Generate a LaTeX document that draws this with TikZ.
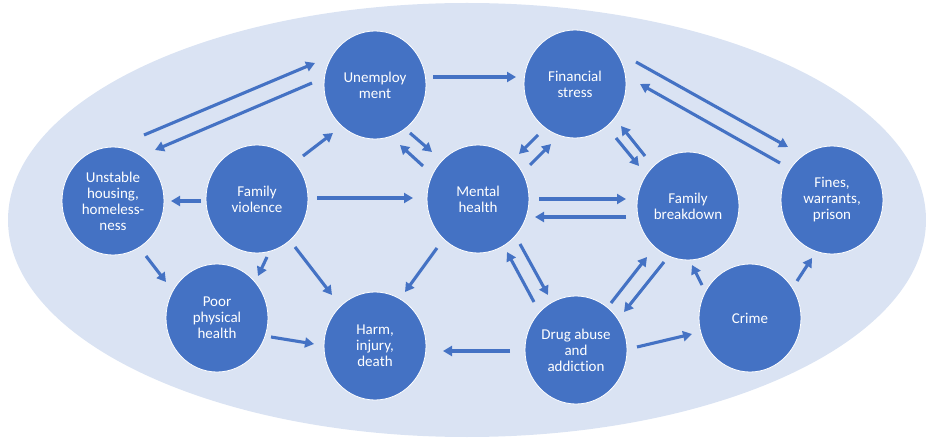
\documentclass[tikz,border=0pt]{standalone}
\usepackage{fontspec}
\setmainfont{Carlito}[Ligatures={NoCommon}]
\usetikzlibrary{shapes.geometric,arrows.meta}
\definecolor{bgblue}{HTML}{DAE3F3}
\definecolor{nodeblue}{HTML}{4472C4}
\tikzset{
  bubble/.style={ellipse, fill=nodeblue, draw=white, line width=0.8pt,
    minimum width=102pt, minimum height=108pt, inner sep=0pt,
    text=white, align=center, font=\fontsize{15}{16}\selectfont},
  arr/.style={draw=nodeblue, line width=3.1pt,
    -{Triangle[length=9pt,width=10pt]}}
}
\begin{document}
\begin{tikzpicture}[x=1pt,y=-1pt]
\useasboundingbox (0,0) rectangle (926,438);
\begin{scope}
\clip (0,0) rectangle (926,438);
\fill[bgblue] (467,220) ellipse [x radius=459pt, y radius=217pt];
\end{scope}

\node[bubble] (U) at (375,85) {Unemploy\\ment};
\node[bubble] (F) at (575,84) {Financial\\stress};
\node[bubble] (H) at (113,201) {Unstable\\housing,\\homeless-\\ness};
\node[bubble] (V) at (257,199) {Family\\violence};
\node[bubble] (P) at (217,318) {Poor\\physical\\health};
\node[bubble] (M) at (478,199) {Mental\\health};
\node[bubble] (B) at (688,206) {Family\\breakdown};
\node[bubble] (N) at (832,200) {Fines,\\warrants,\\prison};
\node[bubble] (R) at (375,346) {Harm,\\injury,\\death};
\node[bubble] (D) at (576,350) {Drug abuse\\and\\addiction};
\node[bubble] (C) at (750,318) {Crime};

\draw[arr] ([shift={(31,-66)}]H.center) -- ([shift={(-60,-22)}]U.center);
\draw[arr] ([shift={(-63,-2)}]U.center) -- ([shift={(42,-51)}]H.center);
\draw[arr] ([shift={(46,-43)}]V.center) -- ([shift={(-42,48)}]U.center);
\draw[arr] ([shift={(35,48)}]U.center) -- ([shift={(-46,-47)}]M.center);
\draw[arr] ([shift={(-55,-33)}]M.center) -- ([shift={(25,60)}]U.center);
\draw[arr] ([shift={(-56,2)}]V.center) -- ([shift={(58,0)}]H.center);
\draw[arr] ([shift={(60,-1)}]V.center) -- ([shift={(-65,-1)}]M.center);
\draw[arr] ([shift={(58,-8)}]U.center) -- ([shift={(-59,-7)}]F.center);
\draw[arr] ([shift={(-37,51)}]F.center) -- ([shift={(41,-45)}]M.center);
\draw[arr] ([shift={(52,-34)}]M.center) -- ([shift={(-24,60)}]F.center);
\draw[arr] ([shift={(41,54)}]F.center) -- ([shift={(-49,-40)}]B.center);
\draw[arr] ([shift={(-43,-50)}]B.center) -- ([shift={(46,42)}]F.center);
\draw[arr] ([shift={(61,-22)}]F.center) -- ([shift={(-44,-53)}]N.center);
\draw[arr] ([shift={(-52,-37)}]N.center) -- ([shift={(65,0)}]F.center);
\draw[arr] ([shift={(61,0)}]M.center) -- ([shift={(-62,-7)}]B.center);
\draw[arr] ([shift={(-62,11)}]B.center) -- ([shift={(57,18)}]M.center);
\draw[arr] ([shift={(33,55)}]H.center) -- ([shift={(-51,-36)}]P.center);
\draw[arr] ([shift={(10,58)}]V.center) -- ([shift={(41,-42)}]P.center);
\draw[arr] ([shift={(38,48)}]V.center) -- ([shift={(-43,-51)}]R.center);
\draw[arr] ([shift={(-41,49)}]M.center) -- ([shift={(30,-54)}]R.center);
\draw[arr] ([shift={(54,19)}]P.center) -- ([shift={(-61,-2)}]R.center);
\draw[arr] ([shift={(-66,1)}]D.center) -- ([shift={(68,5)}]R.center);
\draw[arr] ([shift={(-42,-48)}]D.center) -- ([shift={(29,53)}]M.center);
\draw[arr] ([shift={(42,45)}]M.center) -- ([shift={(-28,-55)}]D.center);
\draw[arr] ([shift={(35,-47)}]D.center) -- ([shift={(-41,51)}]B.center);
\draw[arr] ([shift={(-24,56)}]B.center) -- ([shift={(48,-38)}]D.center);
\draw[arr] ([shift={(61,-3)}]D.center) -- ([shift={(-58,16)}]C.center);
\draw[arr] ([shift={(-48,-33)}]C.center) -- ([shift={(4,59)}]B.center);
\draw[arr] ([shift={(47,-37)}]C.center) -- ([shift={(-20,58)}]N.center);
\end{tikzpicture}
\end{document}
